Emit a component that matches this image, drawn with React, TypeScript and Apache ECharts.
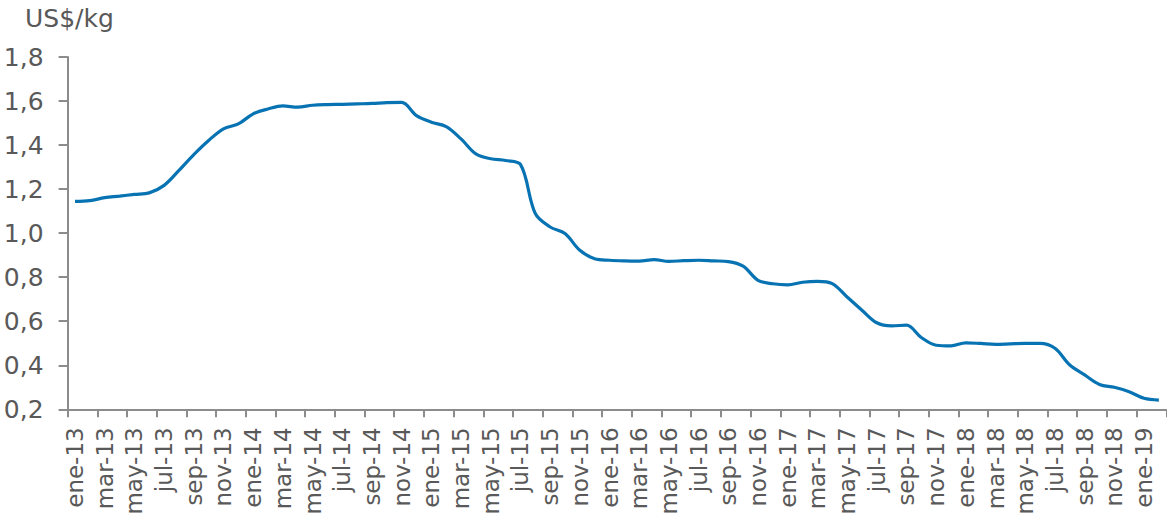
import React, { useEffect, useRef } from "react";
import * as echarts from "echarts";

const years = ["13", "14", "15", "16", "17", "18", "19"];
const monthNames = ["ene", "feb", "mar", "abr", "may", "jun", "jul", "ago", "sep", "oct", "nov", "dic"];
const categories: string[] = [];
for (const y of years) {
  for (const m of monthNames) {
    categories.push(`${m}-${y}`);
  }
}
const months = categories.slice(0, 74);

const prices = [
  1.144, 1.148, 1.161, 1.168, 1.176, 1.183, 1.217, 1.285, 1.357, 1.421, 1.474, 1.496,
  1.542, 1.564, 1.578, 1.572, 1.581, 1.584, 1.585, 1.587, 1.589, 1.593, 1.594, 1.534,
  1.504, 1.484, 1.428, 1.36, 1.338, 1.33, 1.312, 1.089, 1.028, 0.998, 0.922, 0.884,
  0.877, 0.874, 0.873, 0.88, 0.872, 0.875, 0.877, 0.874, 0.871, 0.85, 0.786, 0.77,
  0.765, 0.777, 0.781, 0.771, 0.71, 0.65, 0.593, 0.579, 0.582, 0.526, 0.491, 0.488,
  0.502, 0.499, 0.495, 0.497, 0.499, 0.499, 0.477, 0.401, 0.356, 0.313, 0.3, 0.28,
  0.25, 0.242,
];

const yTicks = { min: 0.2, max: 1.8, interval: 0.2 };
const unitLabel = "US$/kg";

export default function App() {
  const ref = useRef<HTMLDivElement>(null);
  useEffect(() => {
    if (!ref.current) return;
    const chart = echarts.init(ref.current, null, { renderer: "svg" });
    const textColor = "#595959";
    const axisColor = "#8c8c8c";
    const font = "'DejaVu Sans', sans-serif";
    chart.setOption({
      animation: false,
      backgroundColor: "#ffffff",
      textStyle: { fontFamily: font },
      grid: { left: 67.6, right: 0.7, top: 57, bottom: 114.7, containLabel: false },
      graphic: [
        {
          type: "text",
          left: 25,
          top: 6,
          style: { text: unitLabel, fill: textColor, fontSize: 25, fontFamily: font },
        },
      ],
      xAxis: {
        type: "category",
        data: months,
        boundaryGap: true,
        axisLine: { lineStyle: { color: axisColor, width: 2 } },
        axisTick: { show: true, interval: 1, length: 8, lineStyle: { color: axisColor, width: 2 } },
        axisLabel: {
          interval: 1,
          rotate: 90,
          color: textColor,
          fontSize: 23,
          fontFamily: font,
          margin: 18,
        },
        splitLine: { show: false },
      },
      yAxis: {
        type: "value",
        min: yTicks.min,
        max: yTicks.max,
        interval: yTicks.interval,
        axisLine: { show: true, lineStyle: { color: axisColor, width: 2 } },
        axisTick: { show: true, length: 9, lineStyle: { color: axisColor, width: 2 } },
        splitLine: { show: false },
        axisLabel: {
          color: textColor,
          fontSize: 25,
          fontFamily: font,
          margin: 24,
          formatter: (v: number) => v.toFixed(1).replace(".", ","),
        },
      },
      series: [
        {
          type: "line",
          data: prices,
          smooth: 0.35,
          showSymbol: false,
          lineStyle: { color: "#0873b3", width: 3.2 },
        },
      ],
    });
    return () => chart.dispose();
  }, []);
  return (
    <div
      ref={ref}
      style={{ position: "fixed", left: 0, top: 0, width: 1167, height: 524, background: "#fff" }}
    />
  );
}
